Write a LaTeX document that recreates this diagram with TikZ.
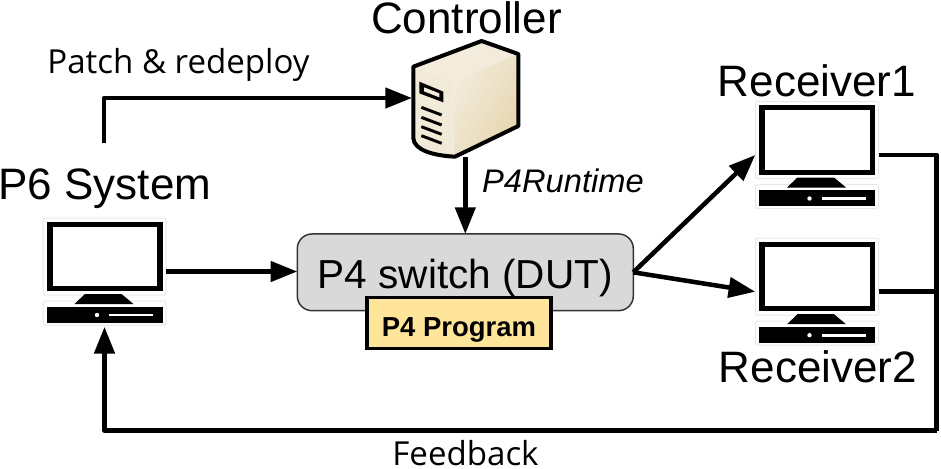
\documentclass[tikz,border=0pt]{standalone}
\usepackage{fontspec}
\setmainfont{Liberation Sans}
\newfontfamily\labelfont{Open Sans}
\usetikzlibrary{arrows.meta,calc}
\definecolor{switchgray}{HTML}{D9D9D9}
\definecolor{programyellow}{HTML}{FFE599}
\definecolor{casefront}{HTML}{F2EAD9}
\definecolor{caseside}{HTML}{E6D5AE}
\definecolor{caselight}{HTML}{F3ECDD}
\definecolor{halo}{HTML}{E8E8E8}
\tikzset{
  every node/.style={inner sep=0pt,outer sep=0pt},
  link/.style={line width=3.4pt,line join=round,-{Triangle[length=20pt,width=15pt]}},
  plainlink/.style={line width=3.4pt,line join=round},
  hostbox/.style={minimum width=92.6pt,minimum height=83pt},
  serverbox/.style={minimum width=80pt,minimum height=88.5pt},
  bigtext/.style={font=\fontsize{33}{38}\selectfont,anchor=base},
  sidetext/.style={font=\labelfont\fontsize{24.8}{28}\selectfont,anchor=base},
  hostframe/.style={fill=black},
  hostedge/.style={draw=halo,line width=0.75pt,rounded corners=1.5pt}
}
% desktop computer drawn about its centre
\newcommand{\hostpic}[1]{%
  \begin{scope}[shift={(#1)}]
    \draw[hostedge] (-61.5,-53.5) rectangle (61.5,23.5);
    \draw[hostedge] (-61.5,29.5) rectangle (61.5,53.5);
    \fill[hostframe] (-58,-50) rectangle (58,19.5);
    \fill[white] (-52,-45) rectangle (52.5,14.5);
    \fill[hostframe] (-19.5,22.5) -- (17,22.5) -- (29,32.5) -- (-30,32.5) -- cycle;
    \fill[hostframe] (-58,35) rectangle (58,51);
    \fill[white] (-7.5,43.5) circle (2.2);
    \fill[white] (4.5,42.2) rectangle (48.5,44.8);
  \end{scope}}
\begin{document}
\begin{tikzpicture}[x=0.75pt,y=-0.75pt]
\useasboundingbox (0,0) rectangle (941,468);

% server tower
\begin{scope}[shift={(400,40)},x=0.25pt,y=-0.25pt]
  \fill[caselight] (40,80) -- (245,3) -- (355,42) -- (160,122) -- cycle;
  \shade[left color=caselight,right color=caseside,shading angle=60]
    (160,122) -- (355,42) -- (355,258) -- (160,348) -- cycle;
  \fill[casefront] (40,80) -- (160,122) -- (160,348) .. controls (100,345) and (42,330) .. (40,295) -- cycle;
  \draw[line width=3pt,line join=round]
    (40,80) -- (245,3) -- (355,42) -- (355,258) -- (165,350)
    .. controls (100,347) and (42,330) .. (40,295) -- cycle;
  \fill[black] (58,125) -- (130,155) -- (130,187) -- (58,160) -- cycle;
  \fill[casefront] (72,142) -- (118,160) -- (118,172) -- (72,154) -- cycle;
  \foreach \yy in {202,232,260,287}
    \draw[line width=2.2pt] (64,\yy) -- (125,\yy+23);
\end{scope}

% named hosts and server extents
\node[hostbox] (p6) at (104.5,271.5) {};
\node[hostbox] (rxa) at (817,155) {};
\node[hostbox] (rxb) at (817,291.7) {};
\node[serverbox] (srv) at (465.3,98) {};
\hostpic{104.5,271.5}
\hostpic{817,155}
\hostpic{817,291.7}

% switch and its program
\node[draw=black!80,line width=1.1pt,fill=switchgray,rounded corners=11pt,
      minimum width=252pt,minimum height=57.5pt,
      font=\fontsize{30.4}{34}\selectfont,text height=24pt,text depth=0pt] (sw) at (465.3,272.3) {P4 switch (DUT)};
\node[draw=black,line width=2.6pt,fill=programyellow,minimum width=138pt,minimum height=38pt,
      font=\bfseries\fontsize{20.6}{24}\selectfont,text height=19.5pt,text depth=0pt] (prog) at (459,323) {P4 Program};

% connectors
\coordinate (patchstart) at (104,143);
\coordinate (patchbend) at (104,98);
\coordinate (busright) at (936.7,155);
\coordinate (busbottom) at (936.7,430.7);
\coordinate (buscorner) at (104.5,430.7);
\draw[link] (patchstart) -- (patchbend) -- (srv.west |- patchbend);
\draw[link] (srv.south) -- (sw.north);
\draw[link] (p6.east) -- (p6.east -| sw.west);
\draw[link] (sw.east) -- (rxa.west);
\draw[link] (sw.east) -- (rxb.west);
\draw[plainlink] (rxa.east) -- (busright) -- (busbottom);
\draw[plainlink] (rxb.east) -- (rxb.east -| busright);
\draw[link] (busbottom) -- (buscorner) -- (p6.south);

% labels
\node[bigtext] (ctl) at (466.5,33) {Controller};
\node[bigtext] (sysl) at (105,199) {P6 System};
\node[bigtext] (rxal) at (817,96) {Receiver1};
\node[bigtext] (rxbl) at (818,382) {Receiver2};
\node[sidetext] (patchl) at (178.5,73.5) {Patch \& redeploy};
\node[sidetext] (fbl) at (465.5,465.5) {Feedback};
\node[font=\itshape\fontsize{24.5}{28}\selectfont,anchor=base] (rtl) at (563,192) {P4Runtime};
\end{tikzpicture}
\end{document}
